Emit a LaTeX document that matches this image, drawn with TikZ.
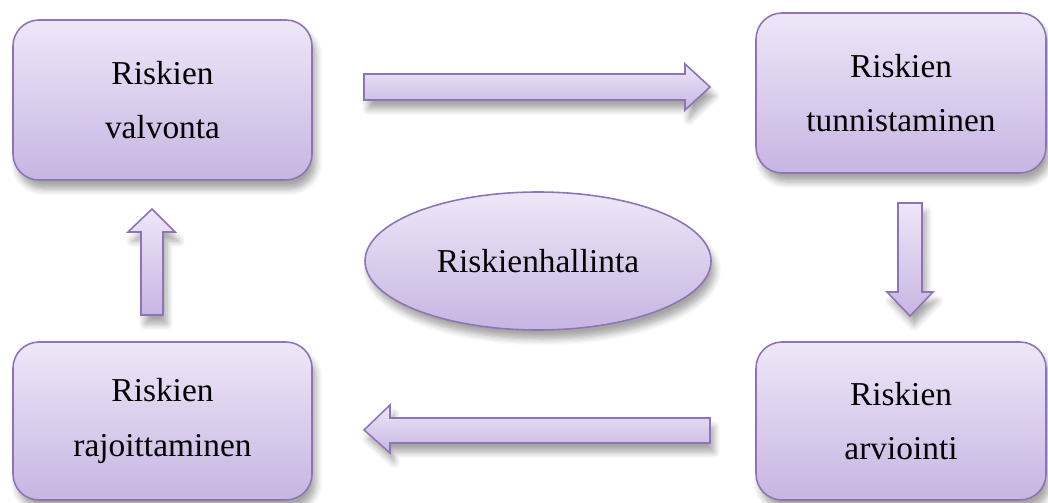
\documentclass[tikz,border=0pt]{standalone}
\usepackage{fontspec}
\setmainfont{Liberation Serif}
\usetikzlibrary{shapes.geometric, shadows.blur}
\definecolor{lilatop}{HTML}{EEE7F8}
\definecolor{lilabot}{HTML}{C7B5E2}
\definecolor{lilaline}{HTML}{8E74B6}
\tikzset{every node/.style={align=center}}
\tikzset{shade lila/.style={top color=lilatop, bottom color=lilabot, draw=lilaline, line width=0.45pt,
	blur shadow={shadow xshift=0.4mm, shadow yshift=-0.9mm, shadow blur steps=6, shadow opacity=35}}}
\tikzset{stage/.style={shade lila, rounded corners=2.6mm, minimum width=29.9mm, minimum height=16mm,
	inner sep=0pt, font=\fontsize{9.5}{15.6}\selectfont}}
\tikzset{core/.style={shade lila, ellipse, minimum width=34.6mm, minimum height=13.8mm,
	inner sep=0pt, font=\fontsize{9.5}{11}\selectfont}}
\tikzset{blockarrow/.style={shade lila, line join=miter}}

\begin{document}
\begin{tikzpicture}[x=0.1mm, y=-0.1mm]
	\useasboundingbox (0,0) rectangle (1048,502);
	
	% Stages
	\node[stage] (valvonta) at (162.5,100) {Riskien\\valvonta};
	\node[stage, minimum width=29mm] (tunnistus) at (901,93) {Riskien\\tunnistaminen};
	\node[stage, minimum width=29mm, minimum height=15.8mm] (arviointi) at (901,421) {Riskien\\arviointi};
	\node[stage, minimum height=15.8mm] (rajoitus) at (162.5,421) {Riskien\\rajoittaminen};
	
	% Centre
	\node[core] (hallinta) at (538,261) {Riskienhallinta};
	
	% Arrows
	%% valvonta -> tunnistaminen
	\draw[blockarrow] (364,74) -- (685,74) -- (685,64) -- (710,87) -- (685,110) -- (685,100) -- (364,100) -- cycle;
	%% tunnistaminen -> arviointi
	\draw[blockarrow] (898,203) -- (922,203) -- (922,292) -- (933,292) -- (910,316) -- (887,292) -- (898,292) -- cycle;
	%% arviointi -> rajoittaminen
	\draw[blockarrow] (710,418) -- (390,418) -- (390,405) -- (364,430) -- (390,453) -- (390,443) -- (710,443) -- cycle;
	%% rajoittaminen -> valvonta
	\draw[blockarrow] (141,315) -- (163,315) -- (163,232) -- (175,232) -- (152,209) -- (128,232) -- (141,232) -- cycle;
\end{tikzpicture}
\end{document}
